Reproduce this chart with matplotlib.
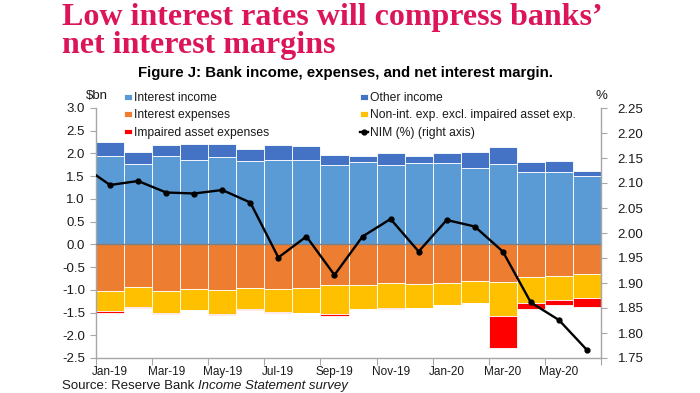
import numpy as np
import matplotlib
matplotlib.use("Agg")
import matplotlib.pyplot as plt
from matplotlib.ticker import FormatStrFormatter

plt.rcParams['font.family'] = ['Liberation Sans', 'DejaVu Sans']

months = ['Jan-19', 'Feb-19', 'Mar-19', 'Apr-19', 'May-19', 'Jun-19', 'Jul-19', 'Aug-19',
          'Sep-19', 'Oct-19', 'Nov-19', 'Dec-19', 'Jan-20', 'Feb-20', 'Mar-20', 'Apr-20',
          'May-20', 'Jun-20']
interest_income = [1.945, 1.77, 1.945, 1.86, 1.93, 1.84, 1.86, 1.86, 1.75, 1.81, 1.75, 1.78,
                   1.78, 1.67, 1.77, 1.59, 1.59, 1.50]
other_income = [0.315, 0.26, 0.245, 0.35, 0.28, 0.26, 0.32, 0.31, 0.22, 0.13, 0.27, 0.17,
                0.24, 0.36, 0.37, 0.22, 0.24, 0.11]
interest_expenses = [-1.03, -0.93, -1.03, -0.99, -1.01, -0.96, -0.98, -0.96, -0.90, -0.90,
                     -0.86, -0.88, -0.86, -0.81, -0.82, -0.72, -0.70, -0.65]
non_int_expenses = [-0.435, -0.45, -0.48, -0.45, -0.52, -0.46, -0.51, -0.54, -0.64, -0.52,
                    -0.54, -0.52, -0.47, -0.47, -0.755, -0.56, -0.52, -0.54]
impaired_expenses = [-0.045, -0.02, -0.02, -0.01, -0.03, -0.02, -0.01, -0.01, -0.03, -0.01,
                     -0.03, -0.01, -0.01, -0.02, -0.715, -0.14, -0.11, -0.18]
# NIM series starts one month earlier (Dec-18), clipped at the left edge
nim_months = ['Dec-18'] + months
nim = [2.135, 2.096, 2.104, 2.081, 2.079, 2.086, 2.061, 1.951, 1.993, 1.916, 1.993, 2.028,
       1.963, 2.026, 2.013, 1.963, 1.861, 1.826, 1.766]

C_II = '#5B9BD5'
C_OI = '#4472C4'
C_IE = '#ED7D31'
C_NI = '#FFC000'
C_IA = '#FF0000'
GRID = '#A6A6A6'
TXT = '#1a1a1a'

fig = plt.figure(figsize=(7.0, 3.93), dpi=100)
ax = fig.add_axes([96/700, 1-358/393, (601-96)/700, (358-108)/393])

x = np.arange(len(months))
ii = np.array(interest_income)
oi = np.array(other_income)
ie = np.array(interest_expenses)
ni = np.array(non_int_expenses)
ia = np.array(impaired_expenses)

kw = dict(width=1.0, edgecolor='white', linewidth=0.6)
b1 = ax.bar(x, ii, color=C_II, label='Interest income', **kw)
b2 = ax.bar(x, oi, bottom=ii, color=C_OI, label='Other income', **kw)
b3 = ax.bar(x, ie, color=C_IE, label='Interest expenses', **kw)
b4 = ax.bar(x, ni, bottom=ie, color=C_NI, label='Non-int. exp. excl. impaired asset exp.', **kw)
b5 = ax.bar(x, ia, bottom=ie + ni, color=C_IA, label='Impaired asset expenses', **kw)
ax.axhline(0, color='#808080', lw=1.0, zorder=3)

ax.set_xlim(-0.5, len(months) - 0.5)
ax.set_ylim(-2.5, 3.0)
ax.set_yticks(np.arange(-2.5, 3.01, 0.5))
ax.yaxis.set_major_formatter(FormatStrFormatter('%.1f'))
ax.set_xticks(np.arange(-0.5, len(months), 2))
ax.set_xticklabels([])
ax.set_xticks(x[::2], minor=True)
ax.set_xticklabels(months[::2], minor=True)
ax.tick_params(axis='x', which='major', length=5, color=GRID, direction='out')
ax.tick_params(axis='x', which='minor', length=0, pad=6, labelsize=8.5, labelcolor=TXT)
ax.tick_params(axis='y', length=4, color=GRID, direction='out', pad=4, labelsize=9.5,
               labelcolor=TXT)
for s in ['top', 'right']:
    ax.spines[s].set_visible(False)
for s in ['left', 'bottom']:
    ax.spines[s].set_color(GRID)
    ax.spines[s].set_linewidth(1.0)

ax2 = ax.twinx()
xn = np.arange(-1, len(months))
ln, = ax2.plot(xn, nim, color='black', lw=1.7, marker='o', ms=3.5, mfc='black',
               mec='black', label='NIM (%) (right axis)')
ax2.set_ylim(1.75, 2.25)
ax2.set_yticks(np.arange(1.75, 2.2501, 0.05))
ax2.yaxis.set_major_formatter(FormatStrFormatter('%.2f'))
ax2.tick_params(axis='y', length=4, color=GRID, direction='out', pad=8, labelsize=9.5,
                labelcolor=TXT)
for s in ['top', 'left', 'bottom']:
    ax2.spines[s].set_visible(False)
ax2.spines['right'].set_color(GRID)
ax2.spines['right'].set_linewidth(1.0)

handles = [b1, b3, b5, b2, b4, ln]
labels = [h.get_label() for h in handles]
leg = ax2.legend(handles, labels, ncol=2, loc='upper left',
                 bbox_to_anchor=(124/700, 1-92/393), bbox_transform=fig.transFigure,
                 frameon=False, fontsize=8.7, handlelength=0.65, handleheight=0.35,
                 handletextpad=0.15, columnspacing=7.55, labelspacing=0.45,
                 borderpad=0, borderaxespad=0)
for t in leg.get_texts():
    t.set_color(TXT)

fig.text(86/700, 1-96/393, '\\$bn', fontsize=9.5, color=TXT, ha='left', va='center')
fig.text(601/700, 1-96/393, '%', fontsize=9.5, color=TXT, ha='center', va='center')

TITLE_C = '#DC145A'
fig.text(62/700, 1-25/393, "Low interest rates will compress banks\u2019",
         family=['Liberation Serif', 'DejaVu Serif'], fontweight='bold', fontsize=23,
         color=TITLE_C, ha='left', va='baseline')
fig.text(62/700, 1-53/393, "net interest margins",
         family=['Liberation Serif', 'DejaVu Serif'], fontweight='bold', fontsize=23,
         color=TITLE_C, ha='left', va='baseline')
fig.text(346/700, 1-77/393, 'Figure J: Bank income, expenses, and net interest margin.',
         fontsize=10.8, fontweight='bold', color='black', ha='center', va='baseline')

t1 = fig.text(62/700, 4/393, 'Source: Reserve Bank ', fontsize=9.5, color=TXT,
              ha='left', va='baseline')
ax.annotate('Income Statement survey', xy=(1, 0), xycoords=t1, fontsize=9.5, color=TXT,
            style='italic', ha='left', va='bottom', annotation_clip=False)

fig.savefig('out.png', dpi=100)
